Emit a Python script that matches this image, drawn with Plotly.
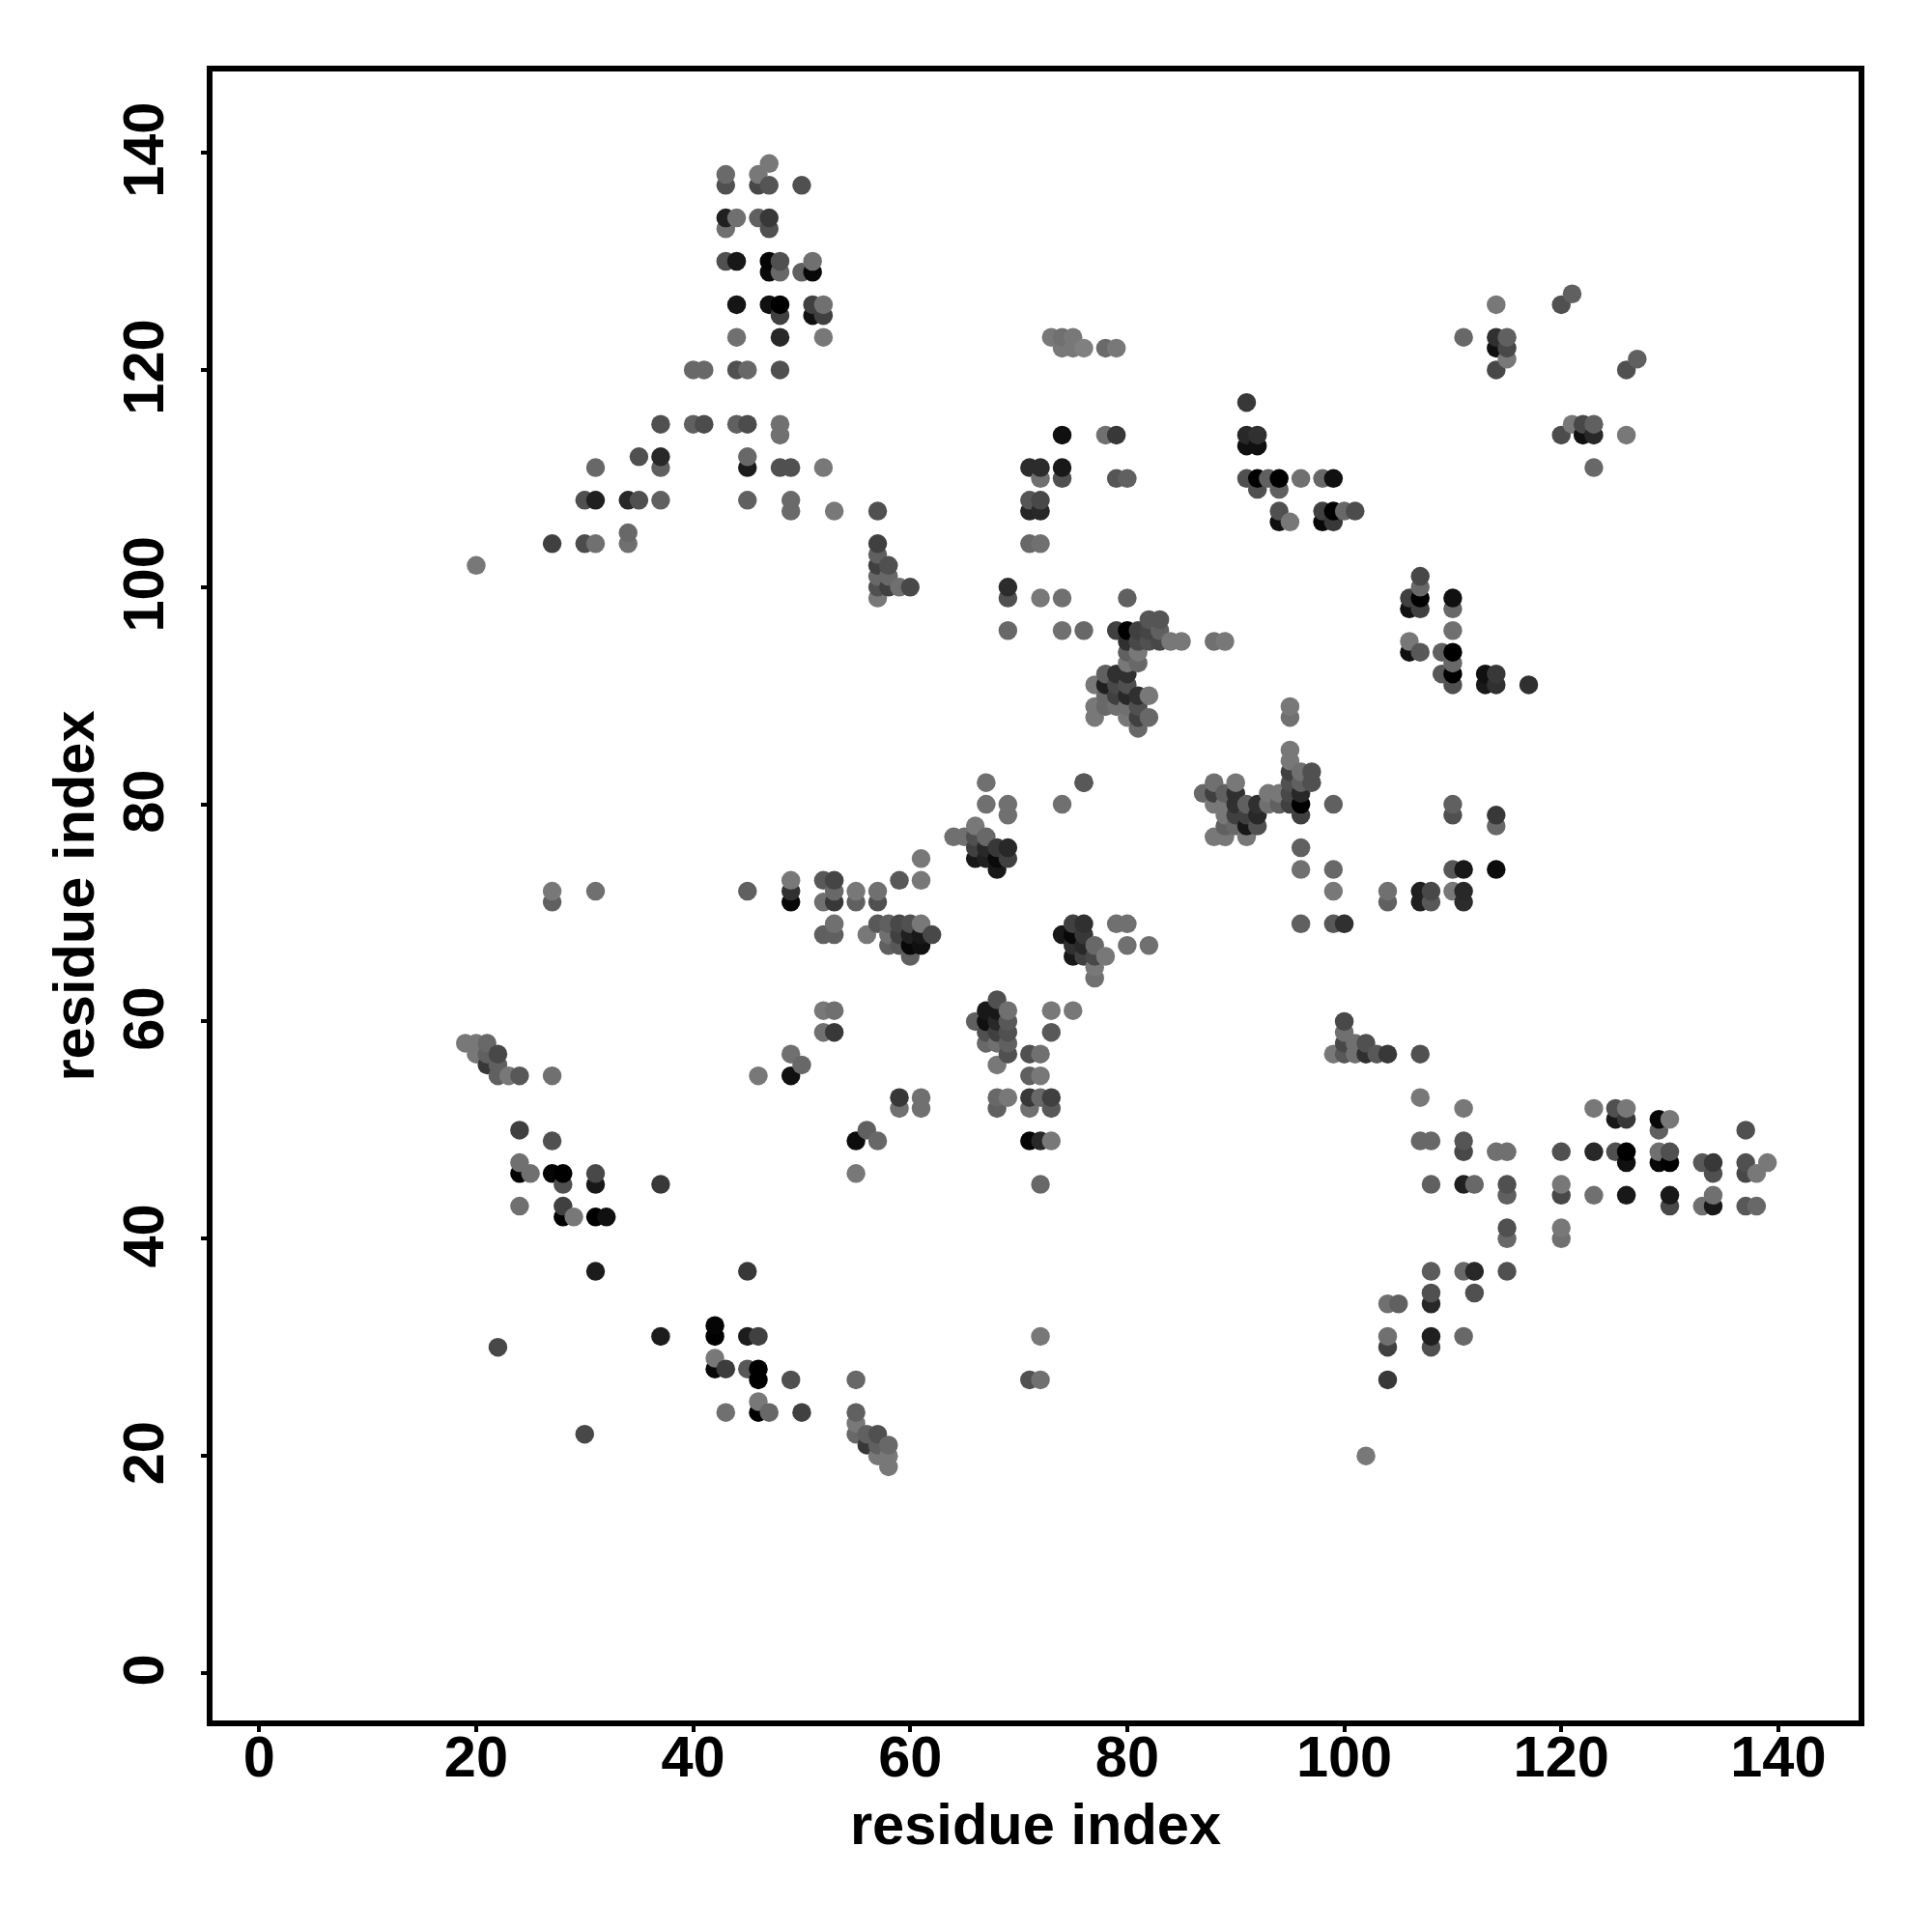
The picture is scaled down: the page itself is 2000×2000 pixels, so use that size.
import numpy as np
import plotly.graph_objects as go

residue_x = [
 47,46,43,43,46,47,50,43,44,46,47,43,47,43,44,47,48,47,48,51,50,51,44,47,48,48,51,52,51,52,44,48,52,40,41,44,45,48,
 37,40,41,44,45,48,48,35,37,37,31,45,45,48,49,52,30,31,34,35,37,45,49,49,53,57,27,30,31,34,34,20,57,57,57,58,57,58,57,58,59,60,57,
 73,74,75,74,75,76,78,79,74,78,79,71,72,74,72,74,79,80,71,72,71,72,71,72,69,69,72,74,80,69,74,76,
 79,80,81,82,83,83,82,80,81,82,83,84,85,88,89,80,81,80,81,78,79,80,77,78,79,80,78,79,80,81,82,77,78,79,80,81,77,80,81,82,81,
 95,95,91,91,92,91,92,91,92,93,94,96,98,99,92,94,94,94,95,98,99,100,101,98,99,
 76,74,95,95,96,97,95,97,96,95,95,96,95,96,94,93,96,93,94,99,
 88,90,87,88,89,90,88,89,90,91,92,89,90,91,92,89,90,91,92,88,89,91,
 96,96,99,99,96,99,100,104,104,
 75,76,79,80,74,75,76,75,76,77,80,82,75,76,77,78,77,77,73,75,73,71,72,
 100,100,99,100,101,102,100,101,102,103,104,
 107,107,111,123,125,126,125,126,129,130,129,137,107,108,111,111,114,115,120,123,125,126,126,129,130,129,130,133,134,134,137,139,137,138,
 108,111,112,115,115,120,120,123,126,130,130,134,133,134,137,138,115,115,120,120,108,111,112,115,112,108,108,104,105,104,104,108,108,111,104,102,
 110,110,114,114,110,111,114,107,108,107,108,110,111,111,
 114,120,121,111,114,115,114,115,115,114,127,126,121,122,123,120,122,123,126,123,
 107,107,106,107,106,107,110,110,110,106,106,107,109,110,110,109,110,110,113,114,113,114,117,
 67,76,67,69,69,66,67,64,65,66,66,67,68,69,66,67,68,69,68,
 61,59,61,49,49,49,52,53,53,52,53,55,55,57,57,53,52,53,56,57,58,59,60,61,58,59,60,61,62,58,59,60,61,60,
 52,53,52,53,59,61,59,61,56,55,57,
 68,67,68,69,66,67,68,69,67,68,69,67,68,69,69,68,71,72,68,69,68,71,72,73,71,73,71,72,73,72,
 71,72,72,
 19,20,21,20,21,22,21,22,22,23,24,27,46,49,50,49,55,
 24,27,24,24,25,27,28,28,31,31,37,24,28,28,29,31,32,31,45,22,37,42,42,45,46,42,42,43,45,46,46,49,55,46,47,46,43,50,55,
 55,55,56,57,56,57,58,57,58,58,30,
 27,27,31,45,
]
residue_y = [
 139,138,138,137,137,137,137,134,134,134,134,133,133,130,130,130,130,129,129,130,129,129,126,126,126,125,126,126,125,125,123,123,123,120,120,120,120,120,
 115,115,115,115,115,115,114,112,112,111,111,112,111,111,111,111,108,108,108,108,108,108,108,107,107,107,104,104,104,105,104,102,104,103,102,102,101,101,100,100,100,100,99,
 123,123,123,122,122,122,122,122,114,114,114,111,111,111,110,110,110,110,108,108,107,107,104,104,100,99,99,99,99,96,96,96,
 96,96,96,97,97,96,96,95,95,95,95,95,95,95,95,94,94,93,93,92,92,92,91,91,91,91,90,90,90,90,90,89,89,89,89,89,88,88,88,88,87,
 89,88,117,114,114,113,113,110,110,110,110,110,110,110,109,109,107,106,106,107,107,107,107,106,106,
 82,80,85,84,83,83,83,82,82,82,81,81,80,80,80,80,79,81,81,80,
 82,82,81,81,81,81,80,80,80,80,80,79,79,79,79,78,78,78,78,77,77,77,
 76,74,74,72,69,69,69,72,71,
 69,69,69,69,68,68,68,67,67,67,67,67,66,66,66,66,65,64,61,61,59,57,57,
 60,59,57,58,58,58,57,57,57,57,57,
 57,53,52,52,52,52,51,51,51,51,50,50,49,49,49,48,48,48,48,48,48,48,47,48,48,47,47,47,47,46,47,47,46,46,
 45,45,45,45,44,45,44,44,44,44,43,44,43,43,43,43,41,40,41,40,37,37,37,37,35,35,34,34,34,31,30,31,30,31,27,20,
 80,79,79,78,74,74,74,72,72,71,71,72,72,71,
 126,126,127,123,123,123,122,122,121,120,121,120,115,115,115,114,114,114,114,111,
 101,100,99,99,98,98,99,98,96,95,94,94,94,94,93,92,92,91,92,92,91,91,91,
 82,82,80,80,79,78,77,77,77,77,76,76,76,76,75,75,75,75,74,
 75,73,73,73,72,71,73,73,72,71,71,72,71,72,71,69,68,68,68,69,69,69,69,69,68,68,68,68,68,67,67,67,67,66,
 61,61,59,59,53,53,52,52,50,49,49,
 62,61,61,61,60,60,60,60,59,59,59,58,58,58,57,56,55,55,53,53,52,53,53,53,52,52,49,49,49,45,
 27,27,31,
 58,58,58,57,57,57,56,56,55,55,55,55,55,57,56,55,46,
 50,49,47,46,46,46,46,45,46,45,45,43,43,42,42,42,42,37,37,30,31,32,31,31,31,29,28,28,28,28,27,27,27,25,24,24,24,24,24,
 23,22,22,22,21,21,21,20,20,19,22,
 72,71,72,72,
]
shade = [
 0x78,0x78,0x6a,0x50,0x48,0x55,0x50,0x20,0x70,0x60,0x38,0x70,0x50,0x50,0x18,0x05,0x50,0x0a,0x68,0x70,0x60,0x08,0x15,0x10,0x00,0x40,0x40,0x70,0x10,0x40,0x70,0x28,0x78,0x68,0x68,0x50,0x68,0x50,
 0x50,0x60,0x4c,0x60,0x4c,0x70,0x70,0x50,0x28,0x60,0x68,0x68,0x1c,0x50,0x50,0x78,0x50,0x20,0x28,0x50,0x60,0x60,0x6a,0x6a,0x78,0x50,0x40,0x4c,0x70,0x68,0x70,0x78,0x40,0x60,0x40,0x50,0x68,0x68,0x50,0x40,0x70,0x48,0x78,
 0x78,0x70,0x78,0x78,0x78,0x80,0x6a,0x78,0x10,0x70,0x38,0x2c,0x2c,0x18,0x70,0x50,0x55,0x60,0x55,0x48,0x25,0x28,0x68,0x70,0x2c,0x50,0x78,0x70,0x60,0x68,0x70,0x68,
 0x40,0x00,0x40,0x55,0x55,0x60,0x45,0x30,0x48,0x50,0x48,0x78,0x78,0x70,0x78,0x60,0x78,0x78,0x68,0x60,0x30,0x30,0x78,0x20,0x48,0x50,0x68,0x40,0x28,0x30,0x78,0x78,0x68,0x70,0x70,0x50,0x78,0x78,0x40,0x68,0x68,
 0x78,0x70,0x38,0x28,0x30,0x10,0x10,0x50,0x00,0x60,0x00,0x70,0x68,0x10,0x50,0x60,0x50,0x10,0x78,0x40,0x00,0x68,0x4c,0x08,0x38,
 0x60,0x70,0x78,0x78,0x70,0x50,0x40,0x50,0x60,0x50,0x48,0x28,0x40,0x00,0x60,0x70,0x40,0x78,0x78,0x60,
 0x70,0x78,0x68,0x40,0x60,0x30,0x78,0x78,0x30,0x60,0x30,0x78,0x40,0x40,0x28,0x60,0x68,0x18,0x50,0x78,0x78,0x78,
 0x60,0x70,0x68,0x78,0x60,0x58,0x30,0x70,0x60,
 0x40,0x30,0x70,0x70,0x18,0x08,0x38,0x30,0x28,0x68,0x70,0x70,0x18,0x40,0x48,0x78,0x78,0x70,0x78,0x78,0x58,0x50,0x70,
 0x48,0x70,0x78,0x48,0x70,0x50,0x58,0x70,0x30,0x58,0x38,
 0x50,0x78,0x78,0x78,0x50,0x78,0x18,0x38,0x08,0x78,0x60,0x50,0x68,0x68,0x55,0x48,0x70,0x70,0x50,0x28,0x50,0x00,0x10,0x70,0x50,0x08,0x00,0x58,0x38,0x50,0x50,0x78,0x48,0x78,
 0x60,0x20,0x68,0x50,0x60,0x78,0x48,0x70,0x18,0x18,0x48,0x70,0x70,0x18,0x58,0x68,0x50,0x68,0x78,0x70,0x5c,0x68,0x28,0x50,0x50,0x50,0x28,0x70,0x60,0x70,0x40,0x20,0x50,0x68,0x38,0x78,
 0x60,0x50,0x38,0x68,0x58,0x18,0x0c,0x20,0x48,0x20,0x58,0x78,0x28,0x2c,
 0x78,0x50,0x60,0x68,0x30,0x60,0x10,0x48,0x78,0x48,0x60,0x50,0x78,0x48,0x60,0x4c,0x10,0x28,0x78,0x68,
 0x48,0x68,0x40,0x00,0x10,0x40,0x10,0x68,0x70,0x78,0x10,0x58,0x60,0x00,0x68,0x58,0x00,0x50,0x10,0x38,0x18,0x30,0x30,
 0x70,0x58,0x70,0x70,0x70,0x78,0x68,0x70,0x70,0x50,0x40,0x28,0x38,0x28,0x18,0x20,0x0a,0x40,0x18,
 0x78,0x58,0x78,0x78,0x30,0x08,0x58,0x45,0x68,0x70,0x38,0x78,0x60,0x70,0x50,0x70,0x60,0x60,0x78,0x58,0x60,0x48,0x50,0x78,0x70,0x40,0x20,0x18,0x48,0x60,0x58,0x08,0x10,0x60,
 0x78,0x70,0x70,0x38,0x38,0x70,0x70,0x70,0x60,0x0c,0x68,
 0x50,0x18,0x18,0x70,0x60,0x10,0x28,0x58,0x50,0x40,0x50,0x68,0x70,0x60,0x50,0x78,0x60,0x78,0x68,0x78,0x60,0x38,0x68,0x40,0x70,0x58,0x05,0x28,0x78,0x68,
 0x50,0x70,0x78,
 0x78,0x78,0x68,0x78,0x60,0x48,0x38,0x60,0x60,0x78,0x58,0x70,0x78,0x70,0x68,0x10,0x78,
 0x40,0x50,0x70,0x00,0x70,0x05,0x00,0x50,0x48,0x18,0x38,0x70,0x40,0x00,0x78,0x00,0x10,0x1c,0x38,0x48,0x1c,0x05,0x00,0x1c,0x40,0x78,0x08,0x3c,0x58,0x00,0x00,0x50,0x68,0x78,0x68,0x00,0x70,0x40,0x60,
 0x78,0x68,0x60,0x50,0x38,0x60,0x68,0x78,0x78,0x78,0x48,
 0x78,0x60,0x70,0x60,
]
x_ticks = [0, 20, 40, 60, 80, 100, 120, 140]
y_ticks = [0, 20, 40, 60, 80, 100, 120, 140]

assert len(residue_x) == len(residue_y) == len(shade), (len(residue_x), len(residue_y), len(shade))

# later points paint over earlier ones: ascending x, then ascending y
order = np.lexsort((residue_y, residue_x))
xs = [residue_x[i] for i in order]
ys = [residue_y[i] for i in order]
cols = [f"rgb({shade[i]},{shade[i]},{shade[i]})" for i in order]

FONT = "Liberation Sans, Arial, sans-serif"
fig = go.Figure(go.Scatter(x=xs, y=ys, mode="markers",
                           marker=dict(size=19.5, color=cols, opacity=1, line=dict(width=0)),
                           showlegend=False, hoverinfo="skip"))

axis = dict(showgrid=False, zeroline=False, showline=True, mirror=True, linecolor="black", linewidth=6,
            ticks="outside", ticklen=6, tickwidth=4, tickcolor="black",
            tickfont=dict(family=FONT, size=59.5, color="black", weight="bold"),
            automargin=False)

fig.update_layout(
    width=1984, height=1984, autosize=False,
    margin=dict(l=211.7, r=68, t=66, b=211.3, pad=0),
    paper_bgcolor="white", plot_bgcolor="white",
    xaxis=dict(axis, range=[-4.30, 147.4], tickvals=x_ticks, ticktext=[str(v) for v in x_ticks], tickangle=0,
               ticklabelstandoff=-25,
               title=dict(text="residue index", font=dict(family=FONT, size=59.6, color="black", weight="bold"), standoff=18)),
    yaxis=dict(axis, range=[-4.36, 147.48], tickvals=y_ticks, ticktext=[str(v) for v in y_ticks], tickangle=-90,
               ticklabelstandoff=15, ticklabelshift=6,
               title=dict(text="residue index", font=dict(family=FONT, size=59.6, color="black", weight="bold"), standoff=0)),
)
fig.write_html("out.html")
